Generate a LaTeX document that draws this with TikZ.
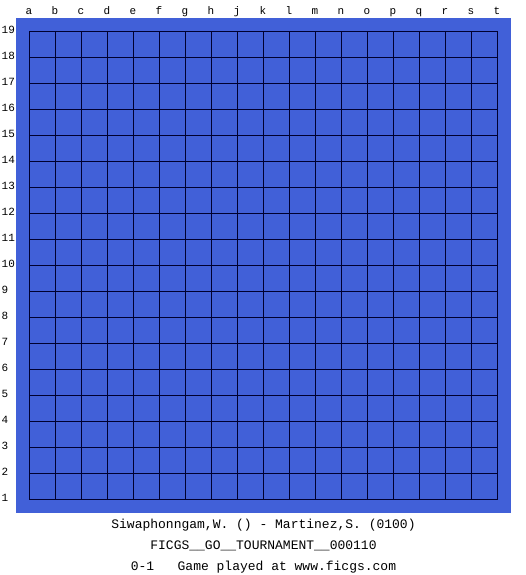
\documentclass[tikz,border=0pt]{standalone}
\usepackage{fontspec}
\setmonofont{Liberation Mono}
\definecolor{boardblue}{HTML}{4160D8}
\definecolor{gridline}{HTML}{000030}
\begin{document}
\begin{tikzpicture}[x=1pt,y=-1pt,
  lbl/.style={font=\ttfamily\fontsize{11}{11}\selectfont, inner sep=0pt, anchor=base},
  info/.style={font=\ttfamily\fontsize{13}{13}\selectfont, inner sep=0pt, anchor=base}]
\useasboundingbox[fill=white] (0,0) rectangle (525,575);
\node[fill=boardblue, minimum width=495pt, minimum height=495pt, inner sep=0pt, anchor=north west] (board) at (16,18) {};
\foreach \i in {0,...,18} {
  \draw[gridline, line width=1pt] (29.5+26*\i,31.5) -- (29.5+26*\i,499.5);
  \draw[gridline, line width=1pt] (29.5,31.5+26*\i) -- (497.5,31.5+26*\i);
}
\foreach \c [count=\i from 0] in {a,b,c,d,e,f,g,h,j,k,l,m,n,o,p,q,r,s,t} {
  \node[lbl] (col\c) at (29+26*\i,15) {\c};
}
\foreach \r in {1,...,19} {
  \node[lbl, anchor=base west] (row\r) at (1.5,{31.5+26*(19-\r)+2}) {\r};
}
\node[info] (players) at (263.5,528) {Siwaphonngam,W. () - Martinez,S. (0100)};
\node[info] (event) at (263.5,549) {FICGS\_\_GO\_\_TOURNAMENT\_\_000110};
\node[info] (result) at (263.5,570) {0-1\ \ \ Game played at www.ficgs.com};
\end{tikzpicture}
\end{document}
